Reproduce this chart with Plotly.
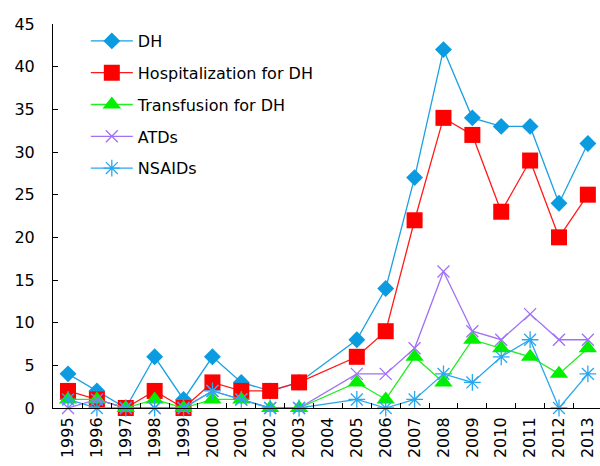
import plotly.graph_objects as go

years = [str(y) for y in range(1995, 2014)]
dh = [4, 2, 0, 6, 1, 6, 3, 2, 3, None, 8, 14, 27, 42, 34, 33, 33, 24, 31]
hosp = [2, 1, 0, 2, 0, 3, 2, 2, 3, None, 6, 9, 22, 34, 32, 23, 29, 20, 25]
transf = [1, 1, 0, 1, 0, 1, 1, 0, 0, None, 3, 1, 6, 3, 8, 7, 6, 4, 7]
atds = [0, 1, 0, 0, 0, 2, 1, 0, 0, None, 4, 4, 7, 16, 9, 8, 11, 8, 8]
nsaids = [1, 0, 0, 0, 0, 2, 1, 0, 0, None, 1, 0, 1, 4, 3, 6, 8, 0, 4]

series = [
    ("DH", dh, "#1BA1E2", "#0A9BE0", "diamond", 13),
    ("Hospitalization for DH", hosp, "#FF1A1A", "#FF0000", "square", 16),
    ("Transfusion for DH", transf, "#22EE22", "#00F000", "triangle-up", 16),
    ("ATDs", atds, "#A070F8", "#A070F8", "x-thin-open", 12),
    ("NSAIDs", nsaids, "#2AA8EE", "#2AA8EE", "asterisk-open", 14),
]

fig = go.Figure()
for i, (name, vals, lc, mc, sym, sz) in enumerate(series):
    open_sym = sym.endswith("open")
    fig.add_trace(go.Scatter(
        x=years, y=vals, name=name, mode="lines+markers",
        connectgaps=True, cliponaxis=False, legendgroup=f"g{i}",
        line=dict(color=lc, width=1.3),
        marker=dict(symbol=sym, size=sz, color=mc,
                    line=dict(color=mc, width=1.3 if open_sym else 0)),
    ))

fig.update_layout(
    width=600, height=466,
    margin=dict(l=53, r=0, t=24, b=58),
    paper_bgcolor="white", plot_bgcolor="white",
    font=dict(family="DejaVu Sans", size=16, color="black"),
    showlegend=True,
    legend=dict(x=0.06, y=1.0, xanchor="left", yanchor="top",
                bgcolor="rgba(0,0,0,0)", tracegroupgap=8, itemwidth=42,
                font=dict(size=16)),
)
fig.update_xaxes(
    type="category", range=[-0.52, 18.42],
    tickangle=-90, tickson="boundaries", ticks="inside", ticklen=5,
    tickcolor="black", showline=True, linecolor="black", linewidth=1,
    showgrid=False, zeroline=False, ticklabelstandoff=2,
)
fig.update_yaxes(
    range=[0, 45], dtick=5, ticks="inside", ticklen=5, tickcolor="black",
    showline=True, linecolor="black", linewidth=1, showgrid=False,
    zeroline=False, ticklabelstandoff=14,
)
fig.write_html("out.html", config={"displayModeBar": False},
               post_script="document.body.style.margin='0';document.body.style.overflow='hidden';")
